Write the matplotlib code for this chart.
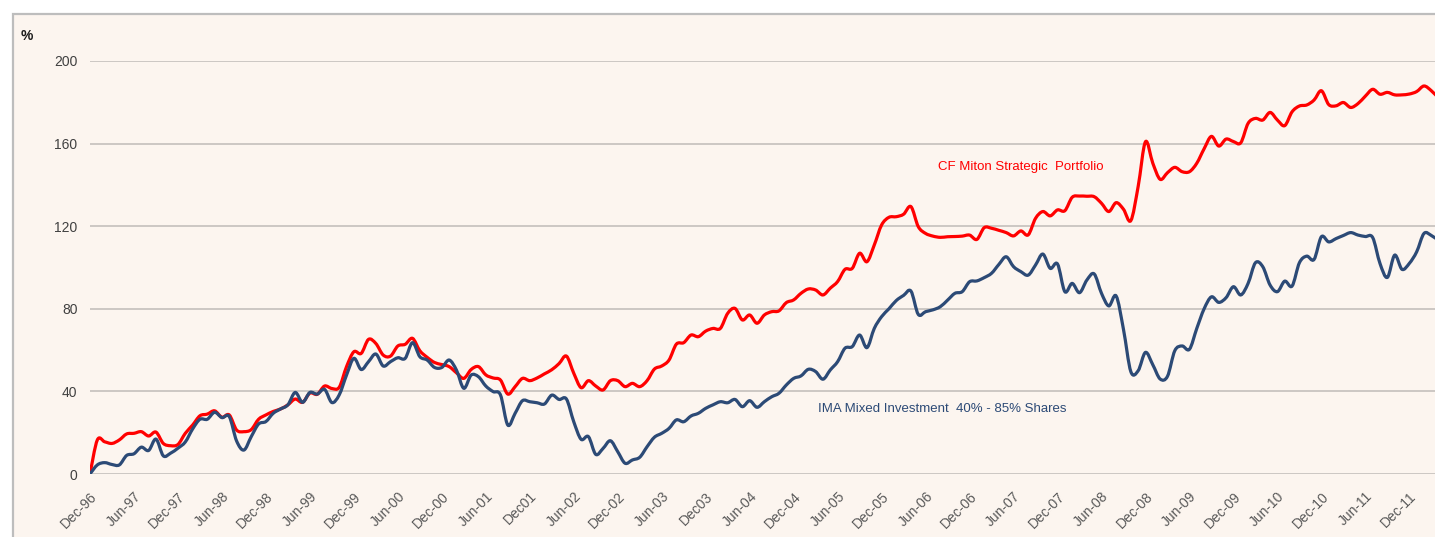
import matplotlib.pyplot as plt
import numpy as np
from matplotlib.patches import Rectangle, PathPatch
from matplotlib.path import Path

# monthly cumulative performance (%), Dec-96 onwards
miton = [0, 16.5, 15.6, 14.8, 16.5, 19.4, 19.7, 20.5, 18.4, 20.3,
         14.8, 13.7, 14.3, 19.7, 23.7, 28.2, 29.0, 30.6, 27.5, 28.6,
         21.3, 20.5, 21.5, 26.5, 28.6, 30.3, 31.5, 33.5, 36.3, 34.7,
         39.2, 38.6, 42.6, 41.4, 42.0, 52.0, 59.2, 58.4, 65.2, 63.2,
         57.6, 57.1, 62.0, 62.8, 65.7, 59.7, 56.5, 54.0, 53.0, 52.0,
         49.0, 46.3, 50.6, 52.0, 48.0, 46.5, 45.5, 38.7, 42.3, 46.3,
         45.2, 46.5, 48.5, 50.5, 53.5, 57.1, 48.8, 41.8, 45.2, 42.6,
         40.7, 45.2, 45.2, 42.3, 43.9, 42.3, 45.2, 50.8, 52.3, 55.2,
         62.9, 63.6, 67.3, 66.5, 69.2, 70.5, 70.5, 77.8, 80.2, 74.6,
         77.0, 73.0, 77.0, 78.6, 79.0, 83.0, 84.3, 87.5, 89.6, 89.1,
         86.7, 90.0, 93.2, 99.1, 99.6, 106.9, 102.8, 110.9, 120.6, 124.3,
         124.6, 125.8, 129.5, 119.8, 116.5, 115.2, 114.6, 114.9, 115.0, 115.2,
         115.7, 113.6, 119.3, 119.0, 118.0, 116.9, 115.3, 117.7, 115.8, 123.8,
         127.1, 125.0, 127.9, 127.5, 134.0, 134.6, 134.5, 134.3, 131.1, 127.1,
         131.4, 128.2, 122.7, 139.2, 160.9, 150.5, 142.7, 145.9, 148.5, 146.4,
         146.4, 150.5, 157.5, 163.5, 158.8, 162.2, 161.0, 160.4, 169.8, 172.2,
         171.4, 175.1, 171.4, 168.7, 175.4, 178.2, 178.7, 181.1, 185.6, 178.9,
         178.3, 179.9, 177.5, 179.4, 183.0, 186.3, 183.9, 184.8, 183.6, 183.6,
         184.0, 185.2, 187.9, 185.6, 182.0]

ima = [0, 4.4, 5.5, 4.6, 4.4, 9.0, 9.8, 13.0, 11.4, 16.9,
       8.8, 10.1, 12.5, 15.5, 21.8, 26.5, 26.5, 29.9, 27.3, 27.8,
       16.0, 11.6, 18.1, 24.2, 25.4, 29.4, 31.5, 33.5, 39.5, 34.7,
       39.5, 38.7, 41.0, 34.6, 38.3, 47.9, 56.0, 50.6, 54.4, 58.1,
       52.3, 54.4, 56.3, 56.0, 63.6, 56.8, 55.2, 51.6, 51.6, 55.2,
       50.3, 41.5, 47.9, 47.1, 42.6, 39.9, 38.3, 23.7, 29.4, 35.5,
       35.0, 34.5, 33.9, 38.2, 36.1, 36.3, 25.3, 16.8, 18.1, 9.5,
       12.4, 16.1, 10.8, 5.2, 6.8, 8.1, 13.2, 17.8, 19.7, 22.1,
       26.2, 25.3, 28.1, 29.4, 31.8, 33.5, 35.0, 34.5, 36.1, 32.6,
       35.5, 32.3, 35.0, 37.4, 39.1, 43.1, 46.3, 47.5, 50.7, 49.6,
       45.9, 50.4, 54.4, 60.9, 61.7, 67.3, 61.2, 70.5, 76.2, 80.0,
       84.0, 86.5, 88.6, 77.3, 78.6, 79.5, 81.0, 84.2, 87.5, 88.3,
       93.1, 93.5, 95.1, 97.2, 101.5, 105.2, 100.4, 98.0, 96.3, 101.2,
       106.5, 99.6, 101.7, 88.3, 92.3, 87.8, 93.9, 96.9, 87.5, 81.4,
       86.2, 70.0, 49.6, 50.0, 58.9, 52.9, 46.0, 47.3, 59.7, 62.0,
       60.4, 70.5, 80.0, 85.8, 83.1, 85.4, 90.7, 86.7, 92.3, 102.3,
       100.4, 91.5, 88.3, 93.4, 91.0, 102.3, 105.5, 103.9, 114.9, 112.4,
       114.0, 115.5, 116.9, 115.7, 115.0, 114.5, 101.9, 95.2, 106.0, 99.1,
       102.0, 107.6, 116.5, 115.5, 113.0]

tick_labels = ['Dec-96', 'Jun-97', 'Dec-97', 'Jun-98', 'Dec-98', 'Jun-99',
               'Dec-99', 'Jun-00', 'Dec-00', 'Jun-01', 'Dec01', 'Jun-02',
               'Dec-02', 'Jun-03', 'Dec03', 'Jun-04', 'Dec-04', 'Jun-05',
               'Dec-05', 'Jun-06', 'Dec-06', 'Jun-07', 'Dec-07', 'Jun-08',
               'Dec-08', 'Jun-09', 'Dec-09', 'Jun-10', 'Dec-10', 'Jun-11',
               'Dec-11']
y_ticks = [0, 40, 80, 120, 160, 200]

bg = '#fcf5ef'
red = '#ff0000'
navy = '#2c4a76'
plt.rcParams['font.family'] = ['Liberation Sans', 'DejaVu Sans']


def smooth_path(ys):
    # excel style smoothed line: bezier segments through every point
    pts = np.column_stack([np.arange(len(ys)), ys]).astype(float)
    verts = [pts[0]]
    codes = [Path.MOVETO]
    n = len(pts)
    for i in range(n - 1):
        p0 = pts[max(i - 1, 0)]
        p1 = pts[i]
        p2 = pts[i + 1]
        p3 = pts[min(i + 2, n - 1)]
        verts += [p1 + (p2 - p0) / 6, p2 - (p3 - p1) / 6, p2]
        codes += [Path.CURVE4] * 3
    return Path(verts, codes)


W, H = 1435, 537
fig = plt.figure(figsize=(W / 100, H / 100), dpi=100, facecolor='white')
# outer frame, clipped on the right and bottom like the source
fig.patches.append(Rectangle((13 / W, -0.1), 1.2, 1.1 - 14 / H,
                             transform=fig.transFigure, facecolor=bg,
                             edgecolor='#bdbdbd', linewidth=1.6, zorder=-5))

ax = fig.add_axes([90 / W, 63 / H, 1 - 90 / W, 413 / H])
ax.set_facecolor('none')

for series, col in [(miton, red), (ima, navy)]:
    ax.add_patch(PathPatch(smooth_path(series), facecolor='none', edgecolor=col,
                           lw=2.3, joinstyle='round', capstyle='round', zorder=3))

ax.set_xlim(0, 183.5)
ax.set_ylim(0, 200)
ax.set_yticks(y_ticks)
ax.set_xticks(np.arange(len(tick_labels)) * 6)
ax.set_xticklabels(tick_labels, rotation=45, ha='right', rotation_mode='anchor',
                   fontsize=10, color='#595959')
ax.tick_params(axis='x', length=0, pad=11)
ax.tick_params(axis='y', length=0, pad=9, labelsize=10, labelcolor='#404040')
ax.grid(axis='y', color='#c4c0bc', lw=1.2)
ax.set_axisbelow(True)
for s in ax.spines.values():
    s.set_visible(False)

ax.text(115.7, 148.7, 'CF Miton Strategic  Portfolio', color=red,
        fontsize=9.5, ha='left', va='center',
        family=['Liberation Sans Narrow', 'Liberation Sans'])
ax.text(99.3, 31.5, 'IMA Mixed Investment  40% - 85% Shares', color=navy,
        fontsize=9.5, ha='left', va='center',
        family=['Liberation Sans Narrow', 'Liberation Sans'])

fig.text(27 / W, 1 - 36 / H, '%', fontsize=10, color='#1a1a1a',
         ha='center', va='center', fontweight='bold')

fig.savefig('out.png', dpi=100, facecolor='white')
